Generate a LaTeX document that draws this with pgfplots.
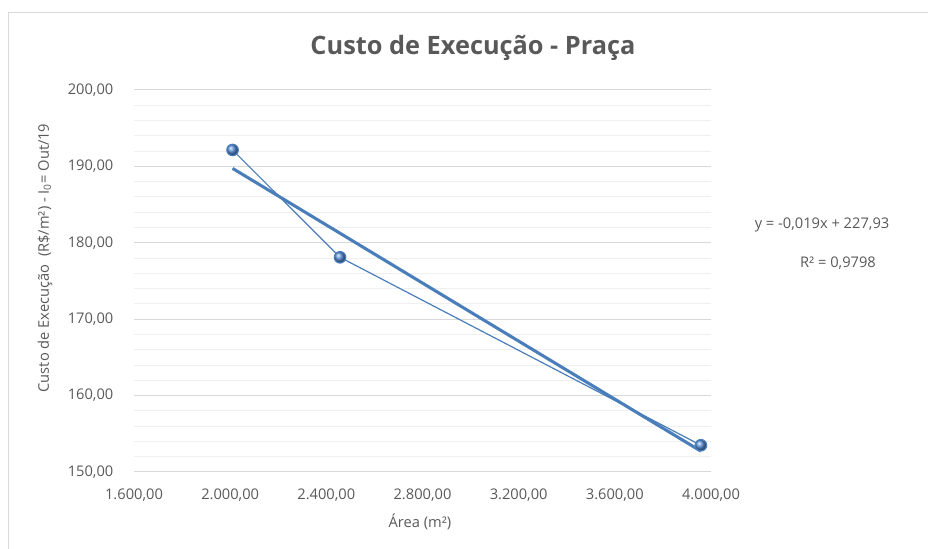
\documentclass[border=0pt]{standalone}
\usepackage{pgfplots}
\pgfplotsset{compat=1.18}
\usepackage{fontspec}
\setmainfont{Open Sans}
\definecolor{txt}{HTML}{595959}
\definecolor{ser}{HTML}{4A7EBB}
\definecolor{ballc}{HTML}{5A90DA}
\definecolor{grd}{HTML}{D9D9D9}
\definecolor{mgrd}{HTML}{EFEFEF}
\begin{document}
\begin{tikzpicture}[x=0.75pt,y=0.75pt]
\useasboundingbox (0,0) rectangle (928,549);
\draw[grd, line width=0.75pt] (8,-5) -- (8,536) -- (935,536);
\begin{axis}[
  at={(100.5pt,57.75pt)}, anchor=south west,
  scale only axis, width=432.75pt, height=286.5pt,
  xmin=1600, xmax=4000, ymin=150, ymax=200,
  xtick={1600,2000,2400,2800,3200,3600,4000},
  ytick={150,160,170,180,190,200},
  minor y tick num=4,
  ymajorgrids, yminorgrids,
  major grid style={grd, line width=0.75pt},
  minor grid style={mgrd, line width=0.75pt},
  axis line style={draw=none},
  major tick length=0pt, minor tick length=0pt,
  tick label style={font=\fontsize{11pt}{13pt}\selectfont, text=txt},
  yticklabel style={xshift=-12pt},
  xticklabel style={yshift=-9pt},
  /pgf/number format/assume math mode=true,
  /pgf/number format/.cd, fixed, fixed zerofill, precision=2, use comma, 1000 sep={.},
  /tikz/.cd,
  scaled ticks=false,
  clip=false,
]
\addplot[ser, line width=0.9pt, mark=ball, mark size=4.3pt,
  mark options={ball color=ballc}]
  coordinates {(2010,192.15) (2457,178.1) (3958,153.5)};
\addplot[ser, line width=2.3pt, no marks]
  coordinates {(2010,189.74) (3958,152.73)};
\end{axis}
\node[font=\bfseries\fontsize{19pt}{22pt}\selectfont, text=txt] at (473,501) {Custo de Execução - Praça};
\node[font=\fontsize{11pt}{13pt}\selectfont, text=txt, rotate=90] at (45,291) {Custo de Execução\ \ (R\$/m²) - I\textsubscript{0}= Out/19};
\node[font=\fontsize{11pt}{13pt}\selectfont, text=txt] at (420,27) {Área (m²)};
\node[font=\fontsize{11pt}{13pt}\selectfont, text=txt] at (822,324) {y = -0,019x + 227,93};
\node[font=\fontsize{11pt}{13pt}\selectfont, text=txt] at (838,286) {R² = 0,9798};
\end{tikzpicture}
\end{document}
